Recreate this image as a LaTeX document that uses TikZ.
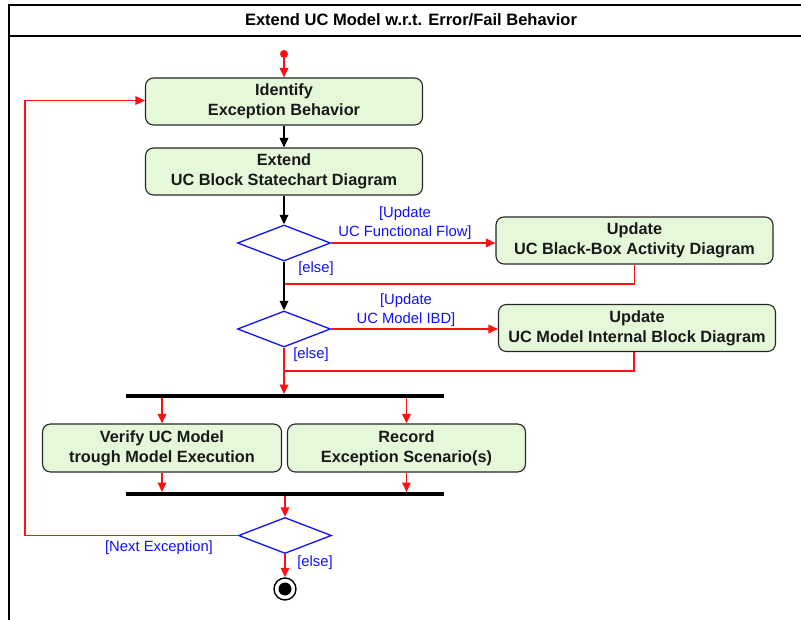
\documentclass[tikz,border=0pt]{standalone}
\usepackage{fontspec}
\setmainfont{Liberation Sans}
\usetikzlibrary{shapes.geometric,arrows.meta}
\definecolor{actfill}{HTML}{E6F8DA}
\definecolor{flowred}{HTML}{FF1010}
\definecolor{guardblue}{HTML}{1010FF}
\tikzset{
  action/.style={draw=black!85, line width=1.1pt, fill=actfill, rounded corners=8pt,
    minimum width=277pt, minimum height=47pt, inner sep=0pt, align=center,
    font=\fontsize{16.3}{20}\selectfont\bfseries, text=black!90},
  decision/.style={diamond, draw=guardblue, line width=1.3pt, minimum width=93pt,
    minimum height=36pt, inner sep=0pt, shape aspect=2.6},
  bar/.style={fill=black, minimum width=318pt, minimum height=3.5pt, inner sep=0pt},
  guard/.style={text=guardblue, align=center, font=\fontsize{14.8}{19}\selectfont, inner sep=0pt},
  redflow/.style={draw=flowred, line width=1.7pt},
  redarrow/.style={redflow, -{Triangle[length=9.5pt,width=8.5pt]}},
  blackarrow/.style={draw=black, line width=1.7pt, -{Triangle[length=9.5pt,width=8.5pt]}},
}
\begin{document}
\begin{tikzpicture}[x=1pt,y=-1pt]
\useasboundingbox (0,0) rectangle (801,620);
% frame with title bar
\draw[line width=1.6pt] (9,5) rectangle (815,640);
\draw[line width=1.6pt] (9,36) -- (815,36);
\node[font=\fontsize{16.5}{20}\selectfont\bfseries] (title) at (411,20) {Extend UC Model w.r.t. Error/Fail Behavior};

% nodes
\node[circle, fill=flowred, inner sep=0pt, minimum size=8pt] (init) at (284,54) {};
\node[action] (identify) at (284,101.5) {Identify\\Exception Behavior};
\node[action] (extend) at (284,171.5) {Extend\\UC Block Statechart Diagram};
\node[decision] (d1) at (284,243) {};
\node[action] (bbad) at (634.5,240.5) {Update\\UC Black-Box Activity Diagram};
\node[decision] (d2) at (284,329) {};
\node[action] (ibd) at (637,328) {Update\\UC Model Internal Block Diagram};
\node[bar] (fork) at (285,396) {};
\node[action, minimum width=239pt, minimum height=48pt] (verify) at (162,448) {Verify UC Model\\trough Model Execution};
\node[action, minimum width=238pt, minimum height=48pt] (record) at (406.5,448) {Record\\Exception Scenario(s)};
\node[bar] (join) at (285,494) {};
\node[decision] (d3) at (285,535.5) {};
\node[circle, draw=black, line width=1.4pt, minimum size=22pt, inner sep=0pt] (final) at (285,589) {};
\node[circle, fill=black, minimum size=13pt, inner sep=0pt] (finaldot) at (final.center) {};

% merge points and loop corners
\coordinate (m1) at (284,284);
\coordinate (m2) at (284,371);
\coordinate (loopA) at (25,535.5);
\coordinate (loopB) at (25,100.5);

% connectors
\draw[redarrow] (init) -- (identify.north);
\draw[blackarrow] (identify.south) -- (extend.north);
\draw[blackarrow] (extend.south) -- (d1.north);
\draw[redarrow] (d1.east) -- (d1.east -| bbad.west);
\draw[redflow] (bbad.south) |- (m1);
\draw[blackarrow] (d1.south) -- (d2.north);
\draw[redarrow] (d2.east) -- (d2.east -| ibd.west);
\draw[redflow] (ibd.south -| 634,0) |- (m2);
\draw[redarrow] (d2.south) -- (d2.south |- fork.north);
\draw[redarrow] (fork.south -| verify.north) -- (verify.north);
\draw[redarrow] (fork.south -| record.north) -- (record.north);
\draw[redarrow] (verify.south) -- (verify.south |- join.north);
\draw[redarrow] (record.south) -- (record.south |- join.north);
\draw[redarrow] (join.south -| d3.north) -- (d3.north);
\draw[redarrow] (d3.west) -- (loopA) -- (loopB) -- (loopB -| identify.west);
\draw[redarrow] (d3.south) -- (final.north);

% guards
\node[guard] (g1) at (405,223) {[Update\\UC Functional Flow]};
\node[guard] (g2) at (316,269) {[else]};
\node[guard] (g3) at (406,310) {[Update\\UC Model IBD]};
\node[guard] (g4) at (311,355) {[else]};
\node[guard] (g5) at (159,548) {[Next Exception]};
\node[guard] (g6) at (315,563) {[else]};
\end{tikzpicture}
\end{document}
